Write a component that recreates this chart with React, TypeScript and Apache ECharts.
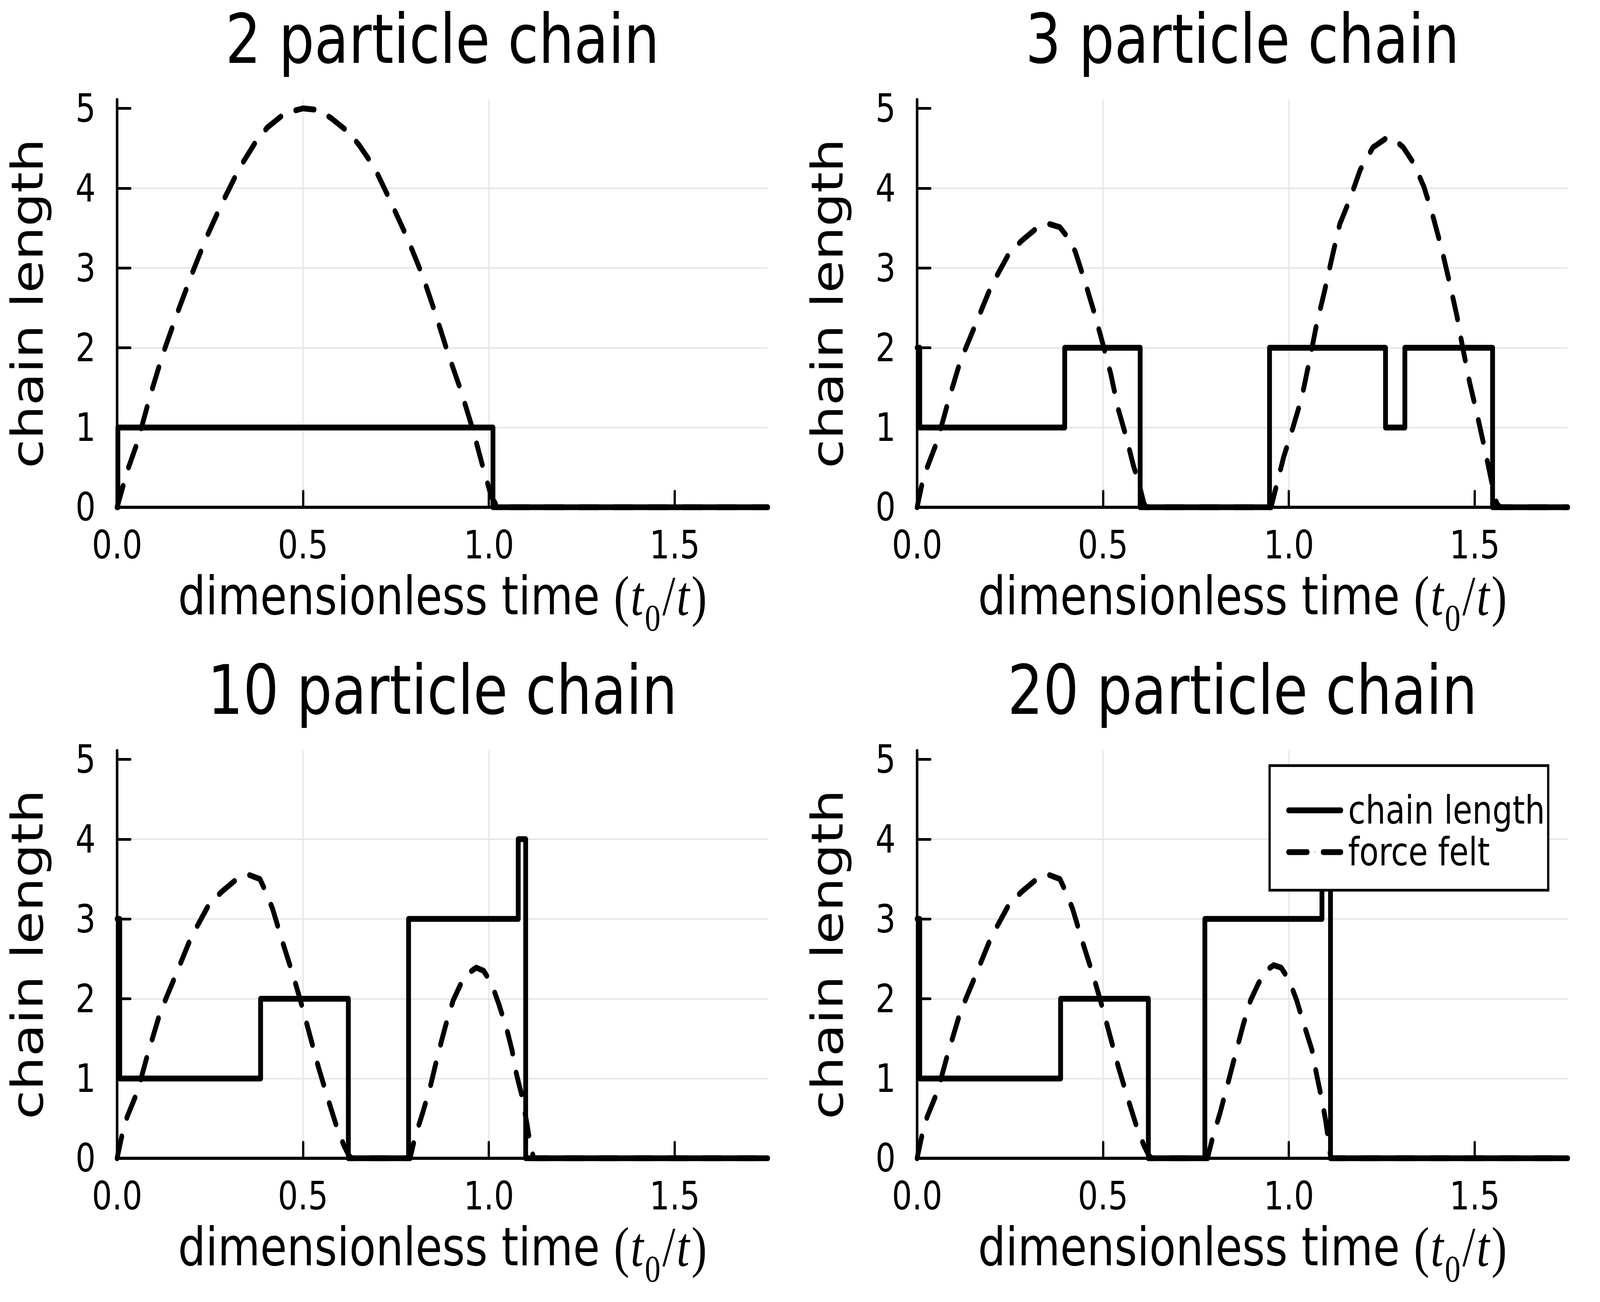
import React, { useEffect, useRef } from 'react';
import * as echarts from 'echarts';

// ---------- data ----------
const X_TICKS = [0, 0.5, 1.0, 1.5];
const Y_TICKS = [0, 1, 2, 3, 4, 5];
const X_MAX = 1.75;
const Y_MAX = 5.11;

const PANEL_TITLES = ['2 particle chain', '3 particle chain', '10 particle chain', '20 particle chain'];
const SERIES_NAMES = ['chain length', 'force felt'];

// chain length (step: value held from x until next x)
const CHAIN_2 = [[0, 0], [0.002, 1], [1.011, 0], [1.75, 0]];
const CHAIN_3 = [[0, 2], [0.007, 1], [0.397, 2], [0.6, 0], [0.948, 2], [1.26, 1], [1.312, 2], [1.548, 0], [1.75, 0]];
const CHAIN_10 = [[0, 3], [0.007, 1], [0.386, 2], [0.622, 0], [0.784, 3], [1.079, 4], [1.099, 0], [1.75, 0]];
const CHAIN_20 = [[0, 3], [0.007, 1], [0.386, 2], [0.622, 0], [0.774, 3], [1.089, 4], [1.112, 0], [1.75, 0]];

// force felt
const FORCE_2 = [
  [0, 0], [0.027, 0.45], [0.055, 0.82], [0.089, 1.4], [0.123, 1.92], [0.164, 2.46], [0.205, 2.97], [0.24, 3.38],
  [0.281, 3.8], [0.329, 4.25], [0.37, 4.56], [0.404, 4.76], [0.452, 4.94], [0.5, 5.0], [0.541, 4.98], [0.575, 4.88],
  [0.623, 4.7], [0.651, 4.54], [0.692, 4.26], [0.733, 3.86], [0.781, 3.37], [0.822, 2.9], [0.856, 2.43], [0.89, 1.93],
  [0.925, 1.46], [0.959, 0.94], [0.986, 0.47], [1.007, 0.13], [1.021, 0.02], [1.03, 0], [1.75, 0],
];
const FORCE_3 = [
  [0, 0], [0.014, 0.31], [0.027, 0.5], [0.055, 0.84], [0.082, 1.3], [0.116, 1.83], [0.158, 2.3], [0.199, 2.77],
  [0.247, 3.18], [0.281, 3.34], [0.322, 3.5], [0.356, 3.55], [0.384, 3.51], [0.404, 3.39], [0.425, 3.21], [0.452, 2.82],
  [0.479, 2.4], [0.5, 2.04], [0.521, 1.67], [0.541, 1.23], [0.562, 0.89], [0.582, 0.52], [0.596, 0.31], [0.61, 0.05],
  [0.616, 0], [0.952, 0], [0.966, 0.26], [0.986, 0.63], [1.007, 0.94], [1.034, 1.36], [1.055, 1.83], [1.075, 2.3],
  [1.096, 2.71], [1.116, 3.13], [1.137, 3.55], [1.164, 3.86], [1.192, 4.23], [1.226, 4.51], [1.26, 4.62], [1.281, 4.62],
  [1.308, 4.51], [1.336, 4.31], [1.363, 4.02], [1.384, 3.71], [1.411, 3.24], [1.432, 2.82], [1.452, 2.4], [1.466, 2.04],
  [1.486, 1.57], [1.507, 1.15], [1.527, 0.73], [1.541, 0.42], [1.548, 0.26], [1.559, 0.05], [1.568, 0], [1.75, 0],
];
const FORCE_10 = [
  [0, 0], [0.014, 0.31], [0.027, 0.52], [0.055, 0.84], [0.082, 1.3], [0.116, 1.83], [0.158, 2.3], [0.199, 2.77],
  [0.247, 3.18], [0.281, 3.34], [0.322, 3.5], [0.356, 3.55], [0.384, 3.5], [0.397, 3.37], [0.418, 3.13], [0.445, 2.71],
  [0.473, 2.3], [0.493, 1.98], [0.514, 1.62], [0.541, 1.15], [0.568, 0.73], [0.589, 0.42], [0.61, 0.16], [0.623, 0.04],
  [0.63, 0], [0.788, 0], [0.801, 0.26], [0.822, 0.57], [0.842, 0.89], [0.863, 1.3], [0.884, 1.67], [0.904, 1.98],
  [0.925, 2.19], [0.945, 2.32], [0.966, 2.39], [0.986, 2.35], [1.007, 2.19], [1.027, 1.93], [1.048, 1.62], [1.062, 1.36],
  [1.075, 1.04], [1.089, 0.78], [1.103, 0.42], [1.11, 0.21], [1.116, 0.1], [1.12, 0], [1.75, 0],
];
const FORCE_20 = [
  [0, 0], [0.014, 0.31], [0.027, 0.52], [0.055, 0.84], [0.082, 1.3], [0.116, 1.83], [0.158, 2.3], [0.199, 2.77],
  [0.247, 3.18], [0.281, 3.34], [0.322, 3.5], [0.356, 3.55], [0.384, 3.5], [0.397, 3.37], [0.418, 3.13], [0.445, 2.71],
  [0.473, 2.3], [0.493, 1.98], [0.514, 1.62], [0.541, 1.15], [0.568, 0.73], [0.589, 0.42], [0.61, 0.16], [0.623, 0.04],
  [0.63, 0], [0.781, 0], [0.795, 0.26], [0.815, 0.57], [0.836, 0.94], [0.856, 1.3], [0.877, 1.67], [0.897, 1.98],
  [0.918, 2.19], [0.938, 2.35], [0.959, 2.42], [0.979, 2.39], [1.0, 2.24], [1.021, 1.98], [1.041, 1.67], [1.062, 1.36],
  [1.075, 1.04], [1.089, 0.73], [1.099, 0.47], [1.107, 0.21], [1.112, 0.03], [1.116, 0], [1.75, 0],
];

const CHAINS = [CHAIN_2, CHAIN_3, CHAIN_10, CHAIN_20];
const FORCES = [FORCE_2, FORCE_3, FORCE_10, FORCE_20];

// ---------- layout ----------
const W = 5000;
const H = 3334;
const GRIDS = [
  { left: 366, top: 255 },
  { left: 2866, top: 255 },
  { left: 366, top: 1922 },
  { left: 2866, top: 1922 },
];
const PLOT_W = 2033;
const PLOT_H = 1044;

const SANS = "'DejaVu Sans', sans-serif";
const SERIF = "'Liberation Serif', 'DejaVu Serif', serif";

const X_NAME = '{n|dimensionless time}{o|(}{i|t}{s|0}{m|/}{j|t}{c|)}';

function buildOption() {
  const gridLine = { color: '#e6e6e6', width: 4 };
  const mathBase = { fontSize: 145, fontFamily: SERIF, color: '#000', lineHeight: 136 };
  return {
    animation: false,
    backgroundColor: '#ffffff',
    title: PANEL_TITLES.map((t, i) => ({
      text: t,
      left: GRIDS[i].left + PLOT_W / 2,
      top: GRIDS[i].top - 242,
      textAlign: 'center',
      padding: 0,
      textStyle: { fontSize: 175, fontWeight: 'normal', fontFamily: SANS, color: '#000', lineHeight: 175 },
    })),
    legend: {
      show: true,
      orient: 'vertical',
      left: 3967.5,
      top: 1960.5,
      padding: [65, 10, 48, 52],
      itemGap: 8,
      itemWidth: 163,
      itemHeight: 2,
      backgroundColor: '#ffffff',
      borderColor: '#000000',
      borderWidth: 7,
      borderRadius: 0,
      selectedMode: false,
      data: SERIES_NAMES,
      lineStyle: { width: 15 },
      textStyle: { fontSize: 99, fontFamily: SANS, color: '#000', lineHeight: 99, padding: [0, 0, 0, 18] },
    },
    grid: GRIDS.map((g) => ({ left: g.left, top: g.top, width: PLOT_W, height: PLOT_H })),
    xAxis: GRIDS.map((g, i) => ({
      type: 'value',
      gridIndex: i,
      min: 0,
      max: X_MAX,
      interval: 0.5,
      name: X_NAME,
      nameLocation: 'middle',
      nameGap: 159,
      nameTextStyle: {
        color: '#000',
        fontSize: 136,
        fontFamily: SANS,
        lineHeight: 136,
        rich: {
          n: { fontSize: 136, fontFamily: SANS, color: '#000', lineHeight: 136 },
          o: { ...mathBase, padding: [0, 4, 0, 44] },
          i: { ...mathBase, fontStyle: 'italic', padding: [0, 2, 0, 0] },
          s: { fontSize: 98, fontFamily: SERIF, color: '#000', lineHeight: 98, verticalAlign: 'top', padding: [75, 4, 0, 2] },
          m: { ...mathBase, padding: [0, 4, 0, 2] },
          j: { ...mathBase, fontStyle: 'italic', padding: [0, 3, 0, 0] },
          c: { ...mathBase, padding: [0, 0, 0, 3] },
        },
      },
      axisLine: { show: true, onZero: true, lineStyle: { color: '#000', width: 8 } },
      axisTick: { show: true, inside: true, length: 41, customValues: X_TICKS, lineStyle: { color: '#000', width: 7, cap: 'round' } },
      axisLabel: {
        show: true,
        customValues: X_TICKS,
        formatter: (v: number) => v.toFixed(1),
        fontSize: 99,
        fontFamily: SANS,
        color: '#000',
        margin: 47,
        lineHeight: 99,
      },
      splitLine: { show: true, showMinLine: false, showMaxLine: false, lineStyle: gridLine },
    })),
    yAxis: GRIDS.map((g, i) => ({
      type: 'value',
      gridIndex: i,
      min: 0,
      max: Y_MAX,
      interval: 1,
      name: 'chain length',
      nameLocation: 'middle',
      nameGap: 212,
      nameTextStyle: { color: '#000', fontSize: 136, fontFamily: SANS, lineHeight: 136 },
      axisLine: { show: true, onZero: true, lineStyle: { color: '#000', width: 8 } },
      axisTick: { show: true, inside: true, length: 41, customValues: Y_TICKS, lineStyle: { color: '#000', width: 7, cap: 'round' } },
      axisLabel: {
        show: true,
        customValues: Y_TICKS,
        formatter: (v: number) => String(Math.round(v)),
        fontSize: 99,
        fontFamily: SANS,
        color: '#000',
        margin: 67,
        lineHeight: 99,
      },
      splitLine: { show: true, showMinLine: false, showMaxLine: false, lineStyle: gridLine },
    })),
    series: GRIDS.flatMap((g, i) => [
      {
        type: 'line',
        name: SERIES_NAMES[0],
        xAxisIndex: i,
        yAxisIndex: i,
        data: CHAINS[i],
        step: 'end',
        symbol: 'none',
        color: '#000',
        lineStyle: { color: '#000', width: 15, cap: 'round', join: 'round' },
        z: 3,
      },
      {
        type: 'line',
        name: SERIES_NAMES[1],
        xAxisIndex: i,
        yAxisIndex: i,
        data: FORCES[i],
        symbol: 'none',
        color: '#000',
        lineStyle: { color: '#000', width: 15, type: [58, 50], cap: 'round', join: 'round' },
        z: 3,
      },
    ]),
  };
}

// The photographed viewport can be narrower than the 5000x3334 design;
// stretch the design so it fills the viewport in the same proportions.
function getScale() {
  if (typeof window === 'undefined') return { sx: 1, sy: 1 };
  const vw = window.innerWidth || document.documentElement.clientWidth || W;
  const vh = window.innerHeight || document.documentElement.clientHeight || H;
  return { sx: Math.min(1, vw / W), sy: Math.min(1, vh / H) };
}

export default function App() {
  const ref = useRef<HTMLDivElement>(null);
  const { sx, sy } = getScale();
  useEffect(() => {
    document.body.style.margin = '0';
    if (!ref.current) return;
    const chart = echarts.init(ref.current, null, { renderer: 'svg' });
    chart.setOption(buildOption() as any);
    return () => chart.dispose();
  }, []);
  return (
    <div style={{ position: 'absolute', left: 0, top: 0, width: W * sx, height: H * sy, overflow: 'hidden', background: '#fff' }}>
      <div
        ref={ref}
        style={{ width: W, height: H, transform: `scale(${sx}, ${sy})`, transformOrigin: '0 0', background: '#fff' }}
      />
    </div>
  );
}
